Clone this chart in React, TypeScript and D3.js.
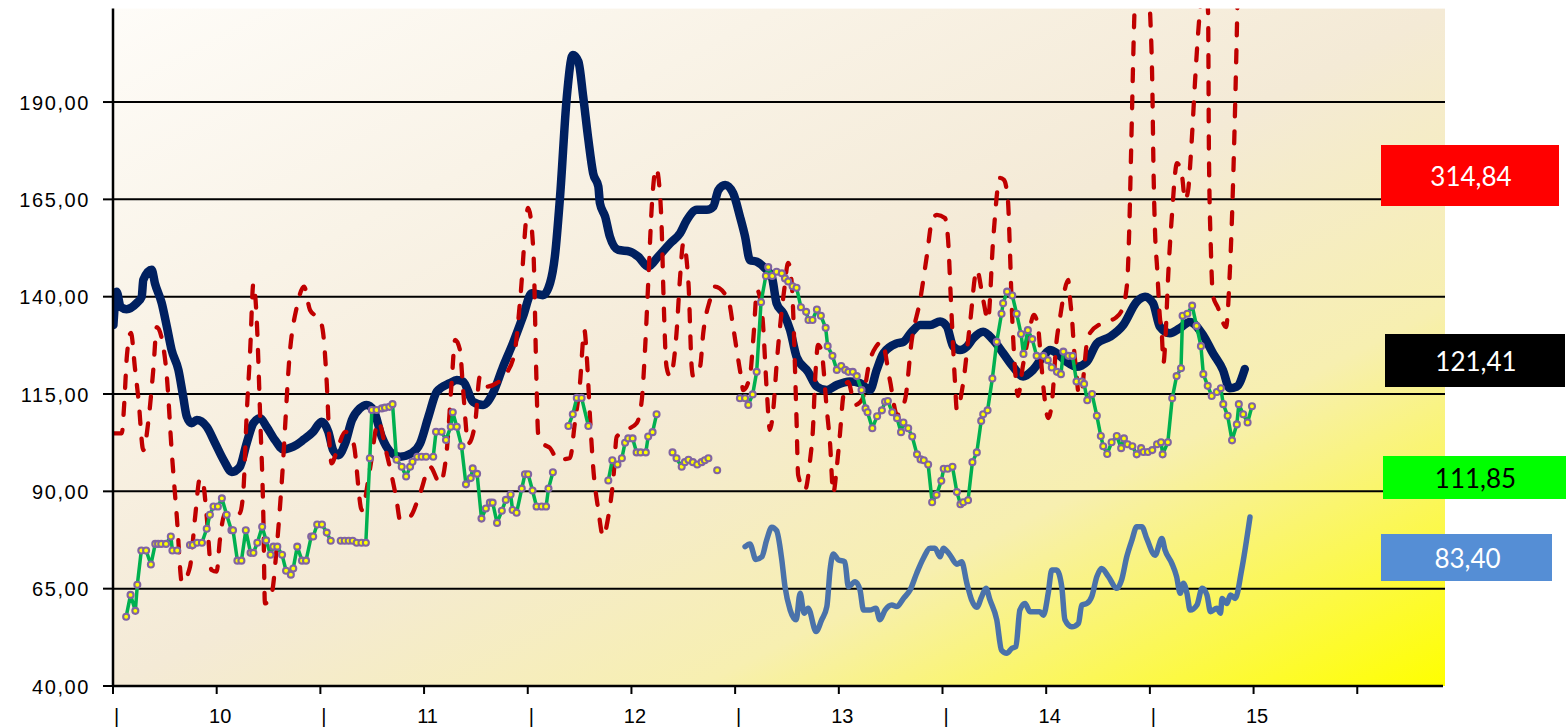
import React from "react";
import * as d3 from "d3";

// ---------- axis data ----------
const yTickValues = [40, 65, 90, 115, 140, 165, 190];
const xTickWeeks = [0, 26, 52, 78, 104, 130, 156, 182, 208, 234, 260, 286, 312];
const xTickLabels = ["|", "10", "|", "11", "|", "12", "|", "13", "|", "14", "|", "15", ""];

// ---------- series (time in weeks from start of 2010) ----------
const navyWeek = [0.1,0.9,1.9,3.4,5.9,7.2,7.6,9.7,10.5,12.2,13.5,14.7,16.4,17.6,18.5,19.7,21.0,23.5,25.6,27.7,29.8,31.8,33.5,35.2,36.9,38.5,40.6,42.7,45.2,47.7,50.2,52.3,54.0,55.2,56.5,58.2,59.9,61.9,63.6,65.3,67.4,69.5,72.0,74.9,77.0,79.1,81.2,84.5,86.2,87.8,90.3,92.8,95.3,97.8,100.3,102.8,105.0,107.8,109.6,110.8,112.1,113.8,115.3,116.7,117.9,119.2,120.4,121.7,122.1,123.4,124.6,126.7,129.6,131.7,134.2,136.7,139.7,142.2,143.9,146.4,148.9,150.5,151.8,153.5,155.5,157.2,158.5,159.7,161.4,163.5,165.2,166.4,168.1,169.8,171.4,174.3,176.5,179.0,181.5,184.8,187.3,189.8,191.5,193.2,196.5,198.2,200.3,202.4,204.9,207.4,209.1,210.7,212.4,214.1,215.7,218.2,220.7,223.2,225.7,228.2,230.7,233.2,235.0,236.6,239.1,241.6,244.2,246.7,250.0,253.3,256.7,258.8,260.8,262.5,265.0,267.5,270.0,273.3,275.8,278.3,280.0,281.8,283.8];
const navyValue = [132.7,141.3,137.4,136.8,138.3,140.0,144.3,146.9,143.5,138.4,132.3,126.3,121.2,114.3,109.2,107.5,108.3,106.6,102.4,98.1,95.0,96.3,102.3,107.5,108.8,106.6,103.2,100.8,101.5,103.2,105.3,107.9,105.3,100.6,99.3,102.3,108.3,111.3,112.2,110.9,104.0,100.2,98.9,99.8,102.3,109.2,115.6,117.8,118.6,118.2,113.0,112.2,115.3,122.0,128.1,134.9,140.9,140.4,143.5,150.3,165.7,191.4,202.1,200.4,191.4,180.3,171.7,168.3,164.0,160.6,155.4,152.0,151.6,150.3,147.7,150.3,153.7,156.3,159.7,162.3,162.3,163.1,167.4,168.7,166.6,160.6,155.4,149.4,149.0,147.3,145.1,138.3,135.7,131.4,124.6,120.7,116.9,116.0,117.3,118.2,117.8,116.0,121.2,125.5,128.0,128.4,131.0,132.7,132.7,133.6,132.3,127.2,126.3,127.2,129.3,131.0,128.9,125.5,122.0,119.5,121.2,124.6,126.3,125.5,123.3,122.0,123.3,128.0,129.7,132.7,138.7,140.0,138.3,132.3,130.6,131.9,133.5,130.2,125.5,121.2,116.5,116.9,121.41];

const redWeek = [0.1,2.2,2.8,3.5,4.5,5.5,6.4,7.6,8.9,10.1,11.0,12.3,13.5,14.7,16.0,17.3,19.3,20.6,21.8,22.6,23.5,24.7,26.0,26.8,28.1,31.8,32.7,33.5,34.4,35.2,36.0,36.9,37.7,38.1,39.8,41.0,42.3,44.4,46.1,47.9,49.4,51.9,52.7,53.6,54.4,54.8,56.2,58.2,60.3,62.4,64.4,66.5,68.6,71.1,72.0,74.5,77.0,79.5,82.0,83.7,84.9,85.8,87.0,87.8,89.1,90.8,92.0,93.7,96.2,98.7,100.8,102.1,104.1,105.4,106.2,106.6,107.9,109.6,111.6,114.6,115.8,117.1,118.2,118.8,119.6,120.4,121.7,122.9,124.2,125.5,126.3,128.8,131.3,132.6,133.4,134.2,135.2,136.2,137.2,137.6,138.0,138.8,139.7,141.3,142.2,143.0,144.3,145.1,145.5,147.2,148.0,149.7,150.9,154.3,155.5,156.4,157.6,158.0,159.7,160.6,161.5,162.8,164.0,164.7,165.6,166.4,167.3,168.3,169.3,170.2,170.6,171.0,171.4,171.8,173.5,174.8,175.5,176.1,176.8,177.6,179.0,179.8,180.6,181.5,182.3,183.1,184.3,186.1,187.8,189.8,191.3,192.8,194.8,196.6,198.6,200.3,202.4,204.1,205.4,206.6,208.6,209.4,210.1,211.1,211.6,213.1,214.9,216.6,218.2,219.4,220.7,222.4,223.4,224.4,224.9,225.4,226.2,226.9,228.2,229.4,230.9,231.9,232.7,233.5,234.5,235.5,236.5,237.5,238.5,239.5,240.0,240.5,241.0,241.5,242.2,243.0,243.5,244.3,245.0,248.7,251.3,253.0,254.3,254.8,255.3,256.0,257.8,260.1,260.6,260.9,261.3,261.8,262.5,263.0,263.4,264.0,264.5,265.5,266.8,268.1,268.8,269.6,270.1,270.6,271.3,272.1,273.7,274.6,274.8,275.3,275.8,277.1,279.1,280.1,283.8];
const redValue = [104.9,104.9,112.2,125.0,130.7,121.7,113.5,100.6,108.3,121.2,132.2,128.9,119.5,100.6,83.5,66.5,70.6,83.5,93.4,92.1,83.5,69.8,69.4,77.5,84.4,84.4,90.3,109.2,126.3,143.4,134.9,109.2,83.5,61.2,63.8,74.9,92.1,126.3,137.4,142.6,136.6,134.0,130.6,117.8,100.6,97.2,100.6,105.3,102.3,85.2,95.5,107.9,99.8,87.8,82.6,83.5,89.5,96.3,92.1,100.6,117.8,128.9,126.3,116.0,102.3,107.5,119.5,116.9,117.8,120.3,126.3,139.2,162.8,152.0,117.8,104.9,102.3,101.1,98.1,98.6,107.5,117.8,131.4,124.6,109.2,96.3,85.2,78.4,83.5,93.8,104.0,105.8,107.5,113.5,126.3,143.4,164.8,173.0,165.7,157.1,141.7,122.0,119.5,130.6,145.1,153.7,143.4,122.0,119.5,122.0,130.6,139.2,142.6,139.2,132.3,126.3,118.6,116.0,119.5,129.7,141.7,135.3,114.8,105.8,111.4,122.5,132.7,141.7,148.7,143.4,134.9,122.0,108.3,94.2,90.3,98.1,105.8,119.5,127.6,126.3,110.9,102.3,89.5,96.3,104.9,114.3,118.1,112.2,113.5,123.7,127.1,128.4,118.6,109.6,113.5,128.9,139.2,150.7,159.7,161.0,160.2,154.6,139.2,118.6,110.9,117.3,133.2,146.9,139.2,134.0,154.6,170.5,170.0,164.8,152.0,136.6,121.2,114.5,122.5,128.9,135.3,132.7,123.7,114.8,108.8,113.5,127.6,134.8,141.0,144.3,139.2,134.0,126.3,121.2,114.8,116.0,121.2,128.9,130.7,133.5,134.5,136.6,143.5,156.4,177.7,208.5,242,211.8,194.9,173.3,156.4,147.6,134.8,130.2,123.0,131.4,143.5,160.5,174.3,170.7,164.8,167.4,173.8,182.0,194.9,207.7,222,212.9,177.7,152.0,140.4,137.1,132.2,147.6,314.84];

// green: null value = gap in the series
const greenWeek = [3.3,4.4,5.6,6.1,7.1,8.3,9.5,10.6,11.3,12.1,13.3,14.5,14.9,16.1,17.5,
  19.3,20.0,21.1,22.3,23.5,24.3,25.2,26.3,27.3,28.5,29.7,30.1,31.2,32.2,33.3,34.5,35.2,36.2,37.4,38.4,39.5,40.2,41.2,42.4,43.4,44.6,45.2,46.2,47.4,48.4,49.7,50.2,51.2,52.4,53.6,54.6,56.0,
  57.1,58.1,59.1,60.1,61.1,62.3,63.4,64.4,64.9,66.1,67.4,68.2,69.3,70.1,71.1,72.4,73.5,74.5,75.1,76.3,77.4,78.5,80.3,81.0,82.4,83.5,84.7,85.2,86.2,87.4,88.5,89.7,90.2,91.3,92.4,93.5,94.5,95.2,96.3,97.5,98.5,99.7,100.2,101.2,102.5,103.3,104.1,105.2,106.2,107.5,108.6,109.2,110.3,112.0,
  114.2,115.3,116.3,117.5,119.2,121.5,
  124.2,125.2,126.5,127.6,128.4,129.2,130.3,131.3,132.3,133.6,134.2,135.3,136.3,138.0,
  140.3,141.3,142.6,143.4,144.3,145.4,146.5,147.6,148.4,149.3,150.4,
  151.5,154.0,
  157.2,158.5,159.3,160.4,161.4,162.5,163.7,164.3,165.3,166.4,167.7,168.5,169.3,170.4,171.4,172.5,173.8,174.4,175.4,176.5,177.5,178.7,179.2,180.4,181.5,182.6,183.6,184.4,185.5,186.5,187.7,188.7,189.2,190.4,191.6,192.8,193.6,194.3,195.4,196.6,197.6,198.2,199.4,200.4,201.6,202.5,203.3,204.4,205.4,206.5,207.7,208.3,209.3,210.5,211.6,212.5,213.2,214.4,215.5,216.6,217.7,218.2,219.3,220.5,221.6,222.8,223.2,224.2,225.5,226.6,227.7,228.3,229.4,230.5,231.6,233.3,234.4,235.4,236.7,237.7,238.3,239.6,240.6,241.6,242.9,243.5,244.3,245.5,246.7,247.7,248.3,249.3,250.4,251.7,252.8,253.5,254.4,255.6,256.7,257.8,258.4,259.5,260.6,261.8,262.8,263.2,264.5,265.6,266.7,267.8,268.2,269.4,270.6,271.7,272.8,273.4,274.5,275.5,276.8,277.8,278.4,279.5,280.6,281.8,282.3,283.4,284.5,285.6];
const greenValue = [57.8,63.4,59.3,66.0,74.8,74.8,71.2,76.5,76.5,76.5,76.5,78.4,74.8,74.8,null,
  76.2,76.2,76.8,76.8,80.4,84.0,86.1,86.1,88.2,84.0,80.0,80.0,72.2,72.2,80.0,74.2,74.2,76.8,80.9,77.4,73.7,75.8,75.8,73.7,69.6,68.6,70.2,75.8,72.2,72.2,78.4,78.4,81.5,81.5,79.4,77.3,null,
  77.3,77.3,77.3,77.3,76.8,76.8,76.8,98.5,110.9,110.9,111.3,111.5,111.7,112.4,98.1,96.3,93.8,96.3,97.6,98.9,98.9,98.9,98.9,105.3,105.3,103.2,106.6,110.3,106.6,101.6,91.8,93.4,95.9,94.5,83.0,85.6,87.1,87.1,81.9,85.0,87.8,89.2,85.2,84.5,90.7,94.4,94.4,90.2,86.1,86.1,86.1,90.7,94.9,null,
  106.8,109.8,114.0,114.0,106.8,null,
  92.8,98.0,96.9,98.5,102.5,103.6,103.6,100.0,100.0,100.0,104.1,105.2,109.8,null,
  100.0,98.5,96.3,97.5,98.1,97.5,96.9,97.5,98.0,98.5,null,
  95.4,null,
  113.9,113.9,112.2,114.9,120.7,138.6,145.3,147.6,145.3,146.4,146.0,144.7,143.9,142.7,142.3,137.3,136.1,134.0,134.0,136.7,135.1,132.0,127.3,124.8,121.2,122.2,121.2,120.7,120.7,119.6,116.0,111.3,110.3,106.2,109.3,110.8,113.0,113.2,110.3,108.8,105.2,107.7,106.2,104.1,99.5,98.2,98.0,96.9,87.2,89.1,92.7,95.8,95.8,96.3,89.8,86.7,87.2,87.7,97.5,100.0,108.1,109.8,110.8,119.0,128.4,135.6,138.3,141.3,140.3,135.6,130.4,125.3,131.4,129.1,124.8,124.8,123.7,121.8,120.7,120.1,125.9,124.8,124.8,118.2,118.2,117.6,113.4,115.0,109.4,104.2,101.6,99.6,102.6,104.2,101.1,103.6,102.1,101.6,99.5,101.1,100.1,100.1,100.6,102.1,102.6,99.5,102.6,113.9,119.6,121.6,135.1,135.6,137.7,132.5,127.3,120.1,117.1,114.5,115.5,116.5,112.4,109.4,103.1,107.2,112.4,109.8,107.7,111.85];

const blueWeek = [158.5,159.7,161.2,162.7,163.9,165.2,166.4,167.7,168.5,169.8,171.3,172.3,173.3,174.3,176.3,177.7,179.0,179.8,180.6,181.9,183.5,184.4,186.1,187.3,188.2,189.8,191.3,192.3,193.6,195.3,196.5,198.2,199.9,201.5,203.2,204.9,206.1,207.4,208.2,209.9,211.6,212.8,214.1,215.3,216.6,217.8,218.9,219.9,221.6,222.8,224.1,225.4,226.4,227.4,228.7,229.9,232.4,233.3,234.5,235.4,236.6,237.9,238.7,240.4,242.1,242.9,244.2,245.4,246.7,247.9,249.6,251.7,252.9,254.2,255.5,256.7,258.0,259.2,261.3,263.0,263.8,265.5,266.7,267.6,268.4,269.3,270.1,271.8,273.1,274.3,275.2,276.8,277.7,278.1,279.3,280.2,281.4,283.0,285.1];
const blueValue = [75.8,76.5,72.5,73.2,77.5,80.8,79.9,72.4,65.5,59.5,57.0,63.8,58.7,60.0,54.0,57.0,60.4,69.8,73.9,72.4,71.9,65.5,66.8,64.7,59.5,59.5,60.0,57.0,59.5,60.8,60.4,62.5,64.7,68.9,72.8,75.4,75.4,73.2,75.4,73.6,71.3,71.9,66.4,62.1,60.2,62.9,65.1,62.1,57.0,49.2,48.4,49.7,50.1,59.5,61.2,59.1,59.1,58.2,63.8,69.8,69.8,65.5,57.0,55.2,56.1,60.8,61.2,62.9,68.1,70.2,68.1,65.1,67.2,73.2,77.5,80.9,80.9,77.9,73.6,77.9,74.9,71.5,68.1,63.8,66.4,63.8,59.5,60.8,65.1,63.4,59.1,60.0,58.7,62.5,61.2,63.4,62.5,69.8,83.40];

// last values shown in the boxes on the right
const lastLabels = ["314,84", "121,41", "111,85", "83,40"];
const lastColors = ["#ff0000", "#000000", "#00ff00", "#558ed5"];
const lastTextColors = ["#ffffff", "#ffffff", "#000000", "#ffffff"];

type Pt = { w: number; v: number | null };
const zip = (ws: number[], vs: (number | null)[]): Pt[] =>
  ws.slice(0, Math.min(ws.length, vs.length)).map((w, i) => ({ w, v: vs[i] }));

export default function App() {
  const left = 113, right = 1445, top = 8.6, bottom = 686;
  const x = d3.scaleLinear().domain([0, 334]).range([left, right]);
  const y = d3.scaleLinear().domain([40, 214]).range([bottom, top]);

  const smooth = d3.line<Pt>()
    .defined((d) => d.v !== null)
    .x((d) => x(d.w))
    .y((d) => y(d.v as number))
    .curve(d3.curveMonotoneX);
  const straight = d3.line<Pt>()
    .defined((d) => d.v !== null)
    .x((d) => x(d.w))
    .y((d) => y(d.v as number));

  const navy = zip(navyWeek, navyValue);
  const red = zip(redWeek, redValue);
  const green = zip(greenWeek, greenValue);
  const blue = zip(blueWeek, blueValue);

  const fmt = (v: number) => d3.format(".2f")(v).replace(".", ",");

  const boxes = [
    { x0: 1381, x1: 1559, y0: 145, y1: 206 },
    { x0: 1385, x1: 1565, y0: 334, y1: 387 },
    { x0: 1383, x1: 1566, y0: 456, y1: 499 },
    { x0: 1381, x1: 1552, y0: 534, y1: 581 },
  ];

  return (
    <svg width={1566} height={728} style={{ position: "absolute", left: 0, top: 0, background: "#ffffff" }}>
      <defs>
        <linearGradient id="bg" x1="0" y1="0" x2="1" y2="1">
          <stop offset="0" stopColor="#fefcf8" />
          <stop offset="0.5" stopColor="#f4ead6" />
          <stop offset="0.72" stopColor="#f7efb0" />
          <stop offset="1" stopColor="#ffff00" />
        </linearGradient>
        <clipPath id="plotClip">
          <rect x={left} y={top} width={right - left} height={bottom - top} />
        </clipPath>
      </defs>
      <rect x={left} y={top} width={right - left} height={bottom - top} fill="url(#bg)" />

      {/* gridlines */}
      {yTickValues.filter((t) => t > 40).map((t) => (
        <line key={"g" + t} x1={left} x2={right} y1={y(t)} y2={y(t)} stroke="#000" strokeWidth={2} />
      ))}

      <g clipPath="url(#plotClip)" fill="none" strokeLinejoin="round">
        <path d={smooth(navy) || ""} stroke="#002060" strokeWidth={8.5} strokeLinecap="round" />
        <path d={smooth(red) || ""} stroke="#c00000" strokeWidth={4.3} strokeDasharray="12 15" strokeLinecap="round" />
        <path d={straight(green) || ""} stroke="#00b050" strokeWidth={3.5} />
        <path d={smooth(blue) || ""} stroke="#4a72aa" strokeWidth={5.5} strokeLinecap="round" />
      </g>
      <g>
        {green.filter((d) => d.v !== null).map((d, i) => (
          <circle key={"m" + i} cx={x(d.w)} cy={y(d.v as number)} r={3} fill="#ffff00" stroke="#8064a2" strokeWidth={2.1} />
        ))}
      </g>

      {/* axes */}
      <line x1={left} x2={left} y1={top} y2={bottom + 1} stroke="#000" strokeWidth={2.5} />
      <line x1={left} x2={right - 2} y1={bottom} y2={bottom} stroke="#000" strokeWidth={2.5} />
      {yTickValues.map((t) => (
        <g key={"y" + t}>
          <line x1={103} x2={left} y1={y(t)} y2={y(t)} stroke="#000" strokeWidth={2} />
          <text x={90} y={y(t) + 7.5} textAnchor="end" fontFamily="'Liberation Sans', Arial, sans-serif" fontSize={20} letterSpacing={1.6} fill="#000">
            {fmt(t)}
          </text>
        </g>
      ))}
      {xTickWeeks.map((w, i) => (
        <g key={"x" + w}>
          <line x1={x(w)} x2={x(w)} y1={bottom} y2={bottom + 8} stroke="#000" strokeWidth={2} />
          <text x={x(w) + 3.5} y={723} textAnchor="middle" fontFamily="'Liberation Sans', Arial, sans-serif" fontSize={20} fill="#000">
            {xTickLabels[i]}
          </text>
        </g>
      ))}

      {/* last-value boxes */}
      {boxes.map((b, i) => (
        <g key={"b" + i}>
          <rect x={b.x0} y={b.y0} width={b.x1 - b.x0} height={b.y1 - b.y0} fill={lastColors[i]} />
          <text x={(b.x0 + b.x1) / 2 + 1} y={(b.y0 + b.y1) / 2 + 10} textAnchor="middle" fontFamily="Lato, 'Open Sans', sans-serif" fontSize={26} fill={lastTextColors[i]}>
            {lastLabels[i]}
          </text>
        </g>
      ))}
    </svg>
  );
}
